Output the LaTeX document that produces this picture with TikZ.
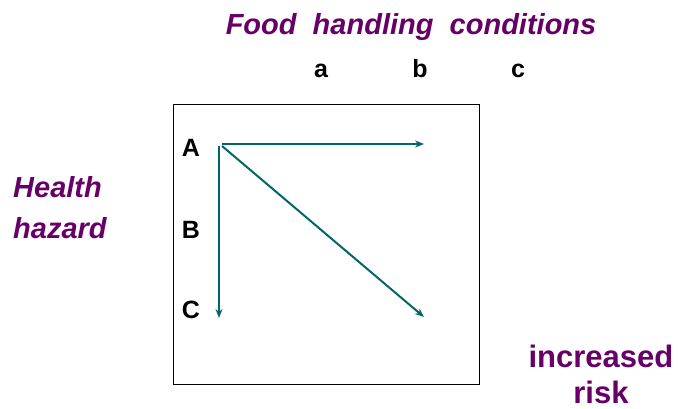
\documentclass[tikz,border=0pt]{standalone}
\usepackage{fontspec}
\setmainfont{Liberation Sans}
\definecolor{plum}{RGB}{102,0,102}
\definecolor{tealc}{RGB}{0,102,102}
\usetikzlibrary{arrows.meta}
\begin{document}
\begin{tikzpicture}[x=1pt,y=-1pt,
  lbl/.style={font=\fontsize{25}{28}\selectfont\bfseries, inner sep=0pt, anchor=base},
  ttl/.style={font=\fontsize{29}{30}\selectfont\bfseries\itshape, text=plum, inner sep=0pt},
  risk/.style={font=\fontsize{31}{35}\selectfont\bfseries, text=plum, inner sep=0pt, anchor=base},
  arr/.style={draw=tealc, line width=2pt, -{Stealth[length=9pt,width=7pt]}}]
\useasboundingbox (0,0) rectangle (680,409);
\node[draw=black, line width=1pt, minimum width=306pt, minimum height=280pt, anchor=north west] (frame) at (173,104) {};
% title
\node[ttl, anchor=base] (title) at (411,35) {Food\ \ handling\ \ conditions};
\node[lbl] (la) at (321,78) {a};
\node[lbl] (lb) at (420,78) {b};
\node[lbl] (lc) at (518,78) {c};
% health hazard
\node[ttl, anchor=base west] (h1) at (13,197) {Health};
\node[ttl, anchor=base west] (h2) at (13,238) {hazard};
% row labels
\node[lbl] (rA) at (191,157) {A};
\node[lbl] (rB) at (191,238) {B};
\node[lbl] (rC) at (191,318) {C};
% arrows
\coordinate (o1) at (222,144);
\coordinate (o2) at (219,146);
\coordinate (o3) at (222,146);
\coordinate (eH) at (424,144);
\coordinate (eV) at (219,318);
\coordinate (eD) at (424,317);
\draw[arr] (o1) -- (eH);
\draw[arr] (o2) -- (eV);
\draw[arr] (o3) -- (eD);
% increased risk
\node[risk] (ir1) at (601,367) {increased};
\node[risk] (ir2) at (601,403) {risk};
\end{tikzpicture}
\end{document}
